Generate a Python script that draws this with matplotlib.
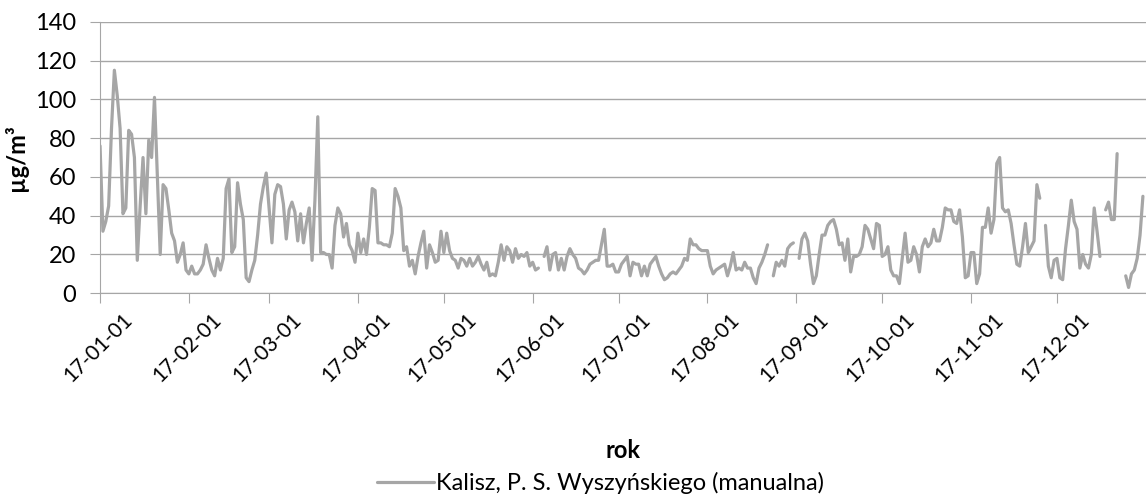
import numpy as np
import pandas as pd
import matplotlib
matplotlib.use('Agg')
import matplotlib.pyplot as plt
import matplotlib.dates as mdates
import matplotlib.transforms as mtransforms

plt.rcParams['font.family'] = ['Lato', 'DejaVu Sans']

nan = np.nan

# === Daily PM values, 2017 (µg/m3), gaps = nan ===
jan = [76, 32, 37, 45, 85, 115, 102, 85, 41, 44, 84, 82, 70, 17, 45, 70,
       41, 79, 70, 101, 60, 20, 56, 54, 43, 31, 27, 16, 20, 26, 12]
feb = [10, 14, 10, 10, 12, 15, 25, 18, 12, 9, 18, 12, 18, 54, 59, 21,
       24, 57, 46, 38, 8, 6, 12, 17, 30, 46, 55, 62]
mar = [44, 26, 51, 56, 55, 46, 28, 43, 47, 42, 27, 41, 26, 36, 44, 17,
       48, 91, 21, 21, 20, 20, 13, 35, 44, 41, 29, 36, 25, 22, 16]
apr = [31, 21, 28, 20, 34, 54, 53, 26, 26, 25, 25, 24, 31, 54, 50, 44,
       22, 24, 14, 17, 10, 19, 26, 32, 13, 25, 21, 16, 17, 32]
may = [21, 31, 22, 18, 17, 13, 18, 17, 14, 18, 14, 16, 19, 15, 12, 16,
       9, 10, 9, 16, 25, 17, 24, 22, 16, 23, 18, 20, 19, 21, 14]
jun = [16, 12, 13, nan, 19, 24, 12, 20, 21, 12, 18, 12, 19, 23, 20, 18,
       13, 12, 10, 12, 15, 16, 17, 17, 25, 33, 14, 14, 15, 11]
jul = [11, 15, 17, 19, 9, 16, 15, 15, 9, 14, 9, 15, 17, 19, 14, 10,
       7, 8, 10, 11, 10, 12, 14, 18, 17, 28, 25, 25, 23, 22, 22]
aug = [22, 14, 10, 12, 13, 14, 15, 9, 14, 21, 12, 13, 12, 16, 13, 13,
       8, 5, 13, 16, 20, 25, nan, 9, 16, 14, 17, 14, 23, 25, 26]
sep = [nan, 18, 28, 31, 27, 15, 5, 9, 20, 30, 30, 35, 37, 38, 33, 25,
       26, 17, 28, 11, 19, 19, 20, 24, 35, 33, 28, 23, 36, 35]
oct = [19, 20, 24, 12, 9, 9, 5, 18, 31, 16, 17, 24, 20, 11, 24, 28,
       24, 26, 33, 27, 27, 34, 44, 43, 43, 37, 36, 43, 29, 8, 9]
nov = [21, 21, 5, 10, 34, 34, 44, 31, 38, 67, 70, 44, 42, 43, 36, 25,
       15, 14, 24, 36, 21, 24, 27, 56, 49, nan, 35, 14, 8, 17]
dec = [18, 8, 7, 23, 35, 48, 37, 33, 13, 20, 15, 13, 20, 44, 32, 19,
       nan, 43, 47, 38, 38, 72, nan, nan, 9, 3, 10, 12, 18, 30, 50]

values = jan + feb + mar + apr + may + jun + jul + aug + sep + oct + nov + dec
dates = pd.date_range('2017-01-01', '2017-12-31', freq='D')
month_ticks = pd.date_range('2017-01-01', '2017-12-01', freq='MS')

FS = 17
GREY = '#A6A6A6'

# === Plot ===
fig = plt.figure(figsize=(11.46, 4.94), dpi=100)
ax = fig.add_axes([0.0873, 0.4063, 0.9125, 0.5497])

ax.plot(dates, values, color=GREY, lw=2.3, solid_joinstyle='round',
        solid_capstyle='round', label='Kalisz, P. S. Wyszyńskiego (manualna)')

ax.set_ylim(0, 140)
ax.set_yticks(range(0, 141, 20))
ax.set_xlim(pd.Timestamp('2017-01-01'), pd.Timestamp('2018-01-01'))
ax.set_xticks(month_ticks)
ax.xaxis.set_major_formatter(mdates.DateFormatter('%y-%m-%d'))

ax.grid(axis='y', color=GREY, lw=1)
ax.set_axisbelow(True)
for s in ['top', 'right']:
    ax.spines[s].set_visible(False)
for s in ['left', 'bottom']:
    ax.spines[s].set_color(GREY)
ax.tick_params(color=GREY, length=7, labelcolor='black')
ax.tick_params(axis='y', pad=10, labelsize=FS)
ax.tick_params(axis='x', pad=5, labelsize=15)

# rotated labels, shifted a little right of the tick like the original
shift = mtransforms.ScaledTranslation(22 / 100, 0, fig.dpi_scale_trans)
for lab in ax.get_xticklabels():
    lab.set_rotation(45)
    lab.set_ha('right')
    lab.set_rotation_mode('anchor')
    lab.set_transform(lab.get_transform() + shift)

ax.set_ylabel('µg/m³', fontweight='bold', fontsize=FS)
ax.yaxis.set_label_coords(-0.069, 0.5)
ax.set_xlabel('rok', fontweight='bold', fontsize=FS)
ax.xaxis.set_label_coords(0.5, -0.535)

fig.legend(loc='center', bbox_to_anchor=(0.524, 0.022), frameon=False,
           fontsize=FS, handlelength=2.4, handletextpad=0.1)

fig.savefig('out.png', dpi=100)
